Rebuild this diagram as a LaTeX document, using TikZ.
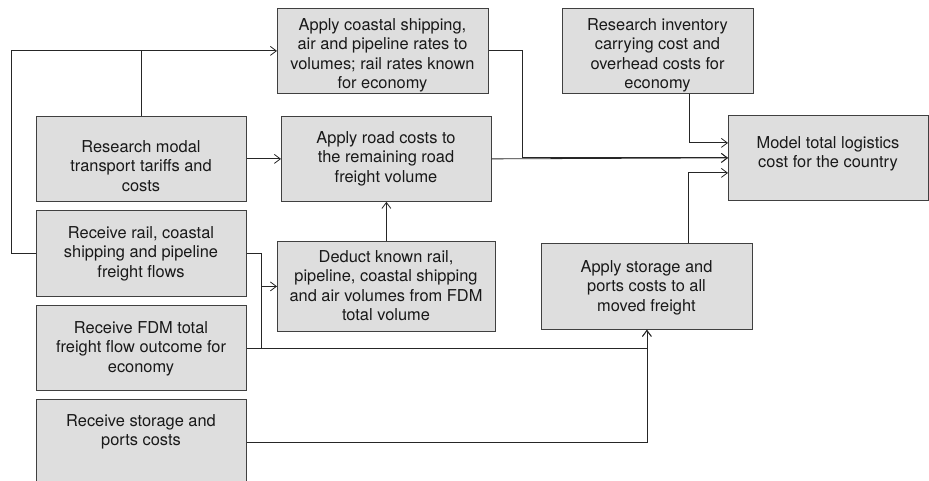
\documentclass[tikz,border=0pt]{standalone}
\usepackage{fontspec}
\setmainfont{TeX Gyre Heros}
\usetikzlibrary{arrows.meta,calc}

\tikzset{
  stage/.style={draw=black!75, fill=black!13, line width=0.8pt, anchor=north west,
    inner sep=0pt, minimum width=#1},
  stage/.default=210pt,
  caption/.style={anchor=north, align=center, inner sep=0pt,
    font=\fontsize{16.4}{19.6}\selectfont, text=black!90},
  flow/.style={draw=black!85, line width=0.8pt},
  arr/.style={flow, -{Straight Barb[length=6pt,width=9pt,line width=0.8pt]}},
}

\begin{document}
\begin{tikzpicture}[x=1pt,y=-1pt]
\useasboundingbox (0,0) rectangle (929,481);
\clip (0,0) rectangle (929,481);

% process boxes
\node[stage=211pt, minimum height=85pt] (A) at (277,8) {};
\node[stage=191pt, minimum height=85pt] (B) at (562,8) {};
\node[stage=200pt, minimum height=85pt] (C) at (728,115) {};
\node[stage=210pt, minimum height=85pt] (D) at (36,116) {};
\node[stage=210pt, minimum height=85pt] (E) at (281,116) {};
\node[stage=210pt, minimum height=86pt] (F) at (36,210) {};
\node[stage=210pt, minimum height=85pt] (G) at (36,305) {};
\node[stage=210pt, minimum height=86pt] (H) at (36,399) {};
\node[stage=218pt, minimum height=90pt] (I) at (277,241) {};
\node[stage=211pt, minimum height=86pt] (J) at (541,243) {};

% box captions
\node[caption] (At) at (382.5,18) {Apply coastal shipping,\\air and pipeline rates to\\volumes; rail rates known\\for economy};
\node[caption] (Bt) at (657.5,18) {Research inventory\\carrying cost and\\overhead costs for\\economy};
\node[caption] (Ct) at (828,136) {Model total logistics\\cost for the country};
\node[caption] (Dt) at (141,140) {Research modal\\transport tariffs and\\costs};
\node[caption] (Et) at (386,131) {Apply road costs to\\the remaining road\\freight volume};
\node[caption] (Ft) at (141,226) {Receive rail, coastal\\shipping and pipeline\\freight flows};
\node[caption] (Gt) at (141,321) {Receive FDM total\\freight flow outcome for\\economy};
\node[caption] (Ht) at (141,414) {Receive storage and\\ports costs};
\node[caption] (It) at (386,250) {Deduct known rail,\\pipeline, coastal shipping\\and air volumes from FDM\\total volume};
\node[caption] (Jt) at (646.5,260) {Apply storage and\\ports costs to all\\moved freight};

% routing points
\coordinate (lx) at (11,0);
\coordinate (rx) at (522,0);
\coordinate (fx) at (261,0);

% connectors
\draw[arr] (F.west) -| (lx |- A.west) -- (A.west);
\draw[flow] (D.north) -- (D.north |- A.west);
\draw[arr] (D.east) -- (E.west);
\draw[arr] (A.east) -| (rx |- C.west) -- (C.west);
\draw[arr] (E.east) -- (C.west);
\draw[arr] ([xshift=31pt]B.south) |- ([yshift=15pt]C.west);
\draw[arr] ([xshift=41.5pt]J.north) |- ([yshift=-15pt]C.west);
\draw[flow] (F.east) -| (fx |- G.east) -- (G.east);
\draw[arr] (fx |- I.west) -- (I.west);
\draw[arr] (I.north) -- (E.south);
\draw[arr] (G.east) -| (J.south);
\draw[arr] (H.east) -| (J.south);
\end{tikzpicture}
\end{document}
